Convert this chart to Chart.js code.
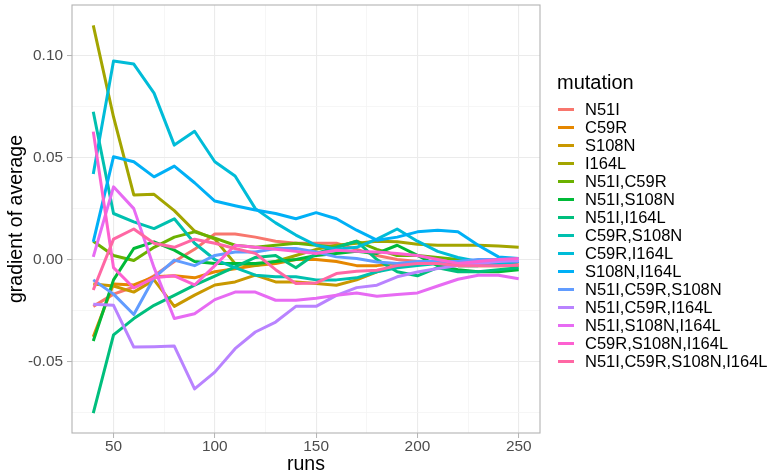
<!DOCTYPE html>
<html><head><meta charset="utf-8">
<script src="https://cdn.jsdelivr.net/npm/chart.js@4"></script>
<style>
html,body{margin:0;padding:0;background:#fff;}
#wrap{position:relative;width:781px;height:475px;overflow:hidden;font-family:"Liberation Sans",Arial,sans-serif;}
canvas{position:absolute;left:0;top:0;}
.lt{position:absolute;left:557px;font-size:20px;color:#000;line-height:24px;white-space:nowrap;}
.li{position:absolute;left:557.5px;height:18px;display:flex;align-items:center;font-size:16.5px;color:#000;white-space:nowrap;}
.key{width:16px;height:3px;margin-right:11.5px;flex:none;}
</style></head>
<body><div id="wrap"><canvas id="c" width="781" height="475"></canvas><div id="legend"></div></div>
<script>
const runs = [40,50,60,70,80,90,100,110,120,130,140,150,160,170,180,190,200,210,220,230,240,250];

const N51I        = [-0.023,-0.017,-0.0135,-0.008,-0.001,0.005,0.0125,0.0125,0.011,0.009,0.008,0.008,0.008,0.005,0.002,0.000,-0.001,-0.001,-0.002,-0.002,-0.002,-0.002];
const C59R        = [-0.038,-0.012,-0.0125,-0.0085,-0.008,-0.009,-0.006,-0.0045,-0.003,-0.002,0.000,0.000,-0.001,-0.003,-0.003,-0.002,-0.002,-0.001,-0.001,-0.001,-0.001,-0.001];
const S108N       = [-0.012,-0.013,-0.016,-0.010,-0.023,-0.0175,-0.0125,-0.011,-0.0077,-0.011,-0.011,-0.0118,-0.0126,-0.010,-0.006,-0.003,-0.002,-0.002,-0.003,-0.003,-0.003,-0.003];
const I164L       = [0.115,0.070,0.0317,0.032,0.024,0.014,0.010,-0.002,-0.003,-0.001,0.002,0.005,0.007,0.008,0.009,0.0087,0.0075,0.007,0.007,0.007,0.0066,0.006];
const N51I_C59R   = [0.009,0.002,-0.0005,0.006,0.011,0.0136,0.0105,0.007,0.006,0.007,0.008,0.007,0.006,0.009,0.005,0.002,0.002,0.001,0.000,-0.001,-0.001,-0.001];
const N51I_S108N  = [-0.040,-0.010,0.0054,0.0087,0.0046,-0.001,-0.002,-0.002,-0.002,-0.001,0.000,0.002,0.003,0.004,0.003,0.007,0.002,-0.003,-0.005,-0.006,-0.006,-0.005];
const N51I_I164L  = [-0.0754,-0.037,-0.029,-0.0225,-0.0176,-0.0126,-0.0082,-0.0036,0.001,0.002,-0.004,0.003,0.006,0.009,0.000,-0.006,-0.008,-0.004,-0.006,-0.006,-0.005,-0.004];
const C59R_S108N  = [0.0726,0.0226,0.0185,0.0152,0.020,0.008,0.000,-0.004,-0.0077,-0.0085,-0.0085,-0.010,-0.010,-0.009,-0.006,-0.004,-0.003,-0.002,-0.003,-0.003,-0.002,-0.001];
const C59R_I164L  = [0.042,0.0975,0.096,0.0817,0.0562,0.063,0.048,0.041,0.025,0.018,0.012,0.007,0.005,0.006,0.010,0.015,0.009,0.004,0.001,-0.001,-0.002,-0.001];
const S108N_I164L = [0.0087,0.0505,0.048,0.0406,0.0459,0.0377,0.0287,0.0264,0.0243,0.0226,0.020,0.023,0.020,0.0144,0.0095,0.011,0.0136,0.0144,0.0136,0.007,0.0013,0.0005];
const N51I_C59R_S108N = [-0.010,-0.017,-0.027,-0.009,-0.0003,-0.003,0.002,0.0037,0.0037,0.0054,0.0054,0.0037,0.0013,0.0005,-0.0012,-0.002,-0.001,-0.001,-0.001,0.000,0.000,-0.001];
const N51I_C59R_I164L = [-0.022,-0.0225,-0.043,-0.0428,-0.0425,-0.0635,-0.0553,-0.0438,-0.0356,-0.0307,-0.023,-0.023,-0.0176,-0.0138,-0.0126,-0.0085,-0.0061,-0.0044,-0.003,-0.002,-0.001,-0.0005];
const N51I_S108N_I164L = [0.0013,0.0357,0.025,-0.004,-0.029,-0.0266,-0.0197,-0.016,-0.016,-0.020,-0.020,-0.019,-0.0176,-0.0164,-0.018,-0.0172,-0.0164,-0.013,-0.0097,-0.0077,-0.0077,-0.0094];
const C59R_S108N_I164L = [0.0628,-0.004,-0.014,-0.009,-0.008,-0.0125,-0.003,0.007,0.006,0.005,0.004,0.003,0.0046,0.004,0.0037,0.003,0.002,0.000,-0.002,-0.001,0.000,0.0005];
const N51I_C59R_S108N_I164L = [-0.015,0.010,0.015,0.008,0.006,0.010,0.008,0.0054,0.003,-0.005,-0.0118,-0.0115,-0.0069,-0.0058,-0.0053,-0.003,-0.002,-0.002,-0.003,-0.003,-0.003,-0.0028];

const seriesNames = ["N51I","C59R","S108N","I164L","N51I,C59R","N51I,S108N","N51I,I164L","C59R,S108N","C59R,I164L","S108N,I164L","N51I,C59R,S108N","N51I,C59R,I164L","N51I,S108N,I164L","C59R,S108N,I164L","N51I,C59R,S108N,I164L"];
const seriesValues = [N51I,C59R,S108N,I164L,N51I_C59R,N51I_S108N,N51I_I164L,C59R_S108N,C59R_I164L,S108N_I164L,N51I_C59R_S108N,N51I_C59R_I164L,N51I_S108N_I164L,C59R_S108N_I164L,N51I_C59R_S108N_I164L];
const seriesColors = ["#F8766D","#E58700","#C99800","#A3A500","#6BB100","#00BA38","#00BF7D","#00C0AF","#00BCD8","#00B0F6","#619CFF","#B983FF","#E76BF3","#FD61D1","#FF67A4"];

const xMajor = [50,100,150,200,250];
const xMinor = [75,125,175,225];
const xLabels = ["50","100","150","200","250"];
const yMajor = [-0.05,0,0.05,0.10];
const yMinor = [-0.075,-0.025,0.025,0.075];
const yLabels = ["-0.05","0.00","0.05","0.10"];

const legendTitle = "mutation";
const xTitle = "runs";
const yTitle = "gradient of average";

const FONT = "'Liberation Sans', Arial, sans-serif";
const near = (a,b)=>Math.abs(a-b)<1e-9;
function majorIdx(list, v){ return list.findIndex(m=>near(m,v)); }

function gridOpts(major){
  return {
    color: ctx => (ctx.tick && majorIdx(major, ctx.tick.value) >= 0) ? '#EBEBEB' : '#F4F4F4',
    lineWidth: ctx => (ctx.tick && majorIdx(major, ctx.tick.value) >= 0) ? 1.1 : 0.8,
    tickColor: ctx => (ctx.tick && majorIdx(major, ctx.tick.value) >= 0) ? '#B3B3B3' : 'rgba(0,0,0,0)',
    tickWidth: 1,
    tickLength: 5,
    drawTicks: true
  };
}
function noPad(s){ s.paddingTop = 0; s.paddingBottom = 0; s.paddingLeft = 0; s.paddingRight = 0; }

const datasets = seriesNames.map((name,i)=>({
  label: name,
  data: runs.map((r,j)=>({x:r, y:seriesValues[i][j]})),
  borderColor: seriesColors[i],
  backgroundColor: seriesColors[i],
  borderWidth: 3,
  pointRadius: 0,
  pointHoverRadius: 0,
  tension: 0,
  fill: false,
  borderJoinStyle: 'round',
  order: seriesNames.length - 1 - i
}));

const panelBorder = {
  id: 'panelBorder',
  afterDraw(chart){
    const {ctx, chartArea:a} = chart;
    ctx.save();
    ctx.strokeStyle = '#B3B3B3';
    ctx.lineWidth = 1.1;
    ctx.strokeRect(a.left, a.top, a.right - a.left, a.bottom - a.top);
    ctx.restore();
  }
};

new Chart(document.getElementById('c'), {
  type: 'line',
  data: { datasets },
  plugins: [panelBorder],
  options: {
    responsive: false,
    animation: false,
    devicePixelRatio: 1,
    layout: { padding: { left: 0, top: 5, right: 241, bottom: 0 } },
    plugins: { legend: { display: false }, tooltip: { enabled: false } },
    scales: {
      x: {
        type: 'linear',
        min: 29.5, max: 260.5,
        afterBuildTicks: s => { s.ticks = xMajor.concat(xMinor).sort((a,b)=>a-b).map(v=>({value:v})); },
        afterFit: s => { s.height = 42; noPad(s); },
        ticks: {
          autoSkip: false, maxRotation: 0, padding: 0,
          color: '#4D4D4D', font: { family: FONT, size: 15.4 },
          callback: v => { const k = majorIdx(xMajor, v); return k >= 0 ? xLabels[k] : ''; }
        },
        grid: gridOpts(xMajor),
        border: { display: false },
        title: { display: true, text: xTitle, color: '#000', font: { family: FONT, size: 19.5, lineHeight: 1 }, padding: { top: 0, bottom: 1 } }
      },
      y: {
        type: 'linear',
        min: -0.0852, max: 0.1250,
        afterBuildTicks: s => { s.ticks = yMajor.concat(yMinor).sort((a,b)=>a-b).map(v=>({value:v})); },
        afterFit: s => { s.width = 72; noPad(s); },
        ticks: {
          autoSkip: false, padding: 4,
          color: '#4D4D4D', font: { family: FONT, size: 15.4 },
          callback: v => { const k = majorIdx(yMajor, v); return k >= 0 ? yLabels[k] : ''; }
        },
        grid: gridOpts(yMajor),
        border: { display: false },
        title: { display: true, text: yTitle, color: '#000', font: { family: FONT, size: 19.5, lineHeight: 1 }, padding: { top: 7, bottom: 0 } }
      }
    }
  }
});

const leg = document.getElementById('legend');
const t = document.createElement('div');
t.className = 'lt'; t.textContent = legendTitle; t.style.top = '70px';
leg.appendChild(t);
seriesNames.forEach((name,i)=>{
  const d = document.createElement('div');
  d.className = 'li';
  d.style.top = (100.3 + 18*i) + 'px';
  const k = document.createElement('span');
  k.className = 'key'; k.style.background = seriesColors[i];
  const s = document.createElement('span');
  s.textContent = name;
  d.appendChild(k); d.appendChild(s);
  leg.appendChild(d);
});
</script>
</body></html>
